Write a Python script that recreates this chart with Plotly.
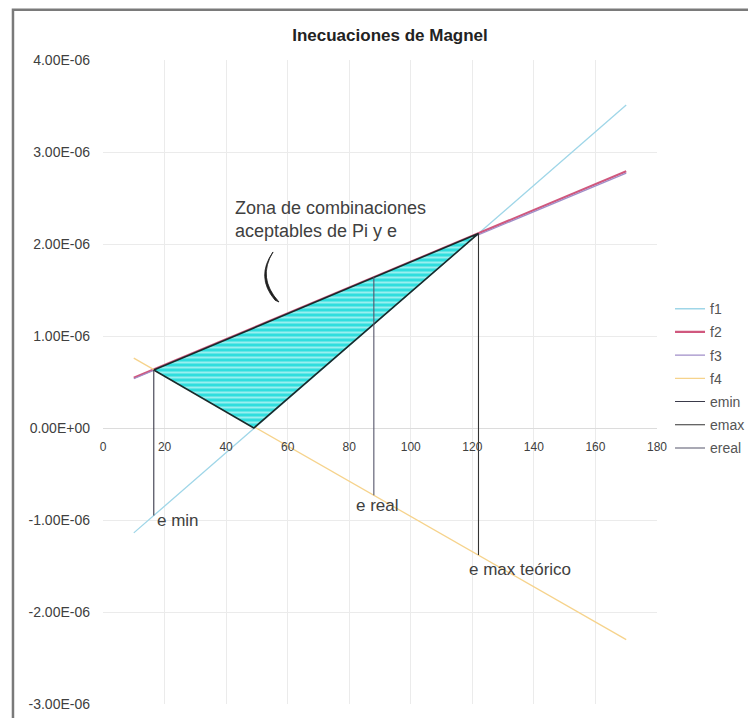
import plotly.graph_objects as go

# ---- data ----
x_ends = [10, 170]
f1 = [-1.14e-6, 3.51e-6]
f2 = [0.545e-6, 2.79e-6]
f3 = [0.535e-6, 2.77e-6]
f4 = [0.76e-6, -2.30e-6]

emin_x = [16.5, 16.5]
emin_y = [-0.95e-6, 0.63e-6]
ereal_x = [88, 88]
ereal_y = [-0.73e-6, 1.64e-6]
emax_x = [122, 122]
emax_y = [-1.38e-6, 2.115e-6]

zone_x = [16.5, 122, 49, 16.5]
zone_y = [0.63e-6, 2.115e-6, 0.0, 0.63e-6]

x_ticks = [0, 20, 40, 60, 80, 100, 120, 140, 160, 180]
y_ticks = [4e-6, 3e-6, 2e-6, 1e-6, 0.0, -1e-6, -2e-6, -3e-6]
y_labels = ["4.00E-06", "3.00E-06", "2.00E-06", "1.00E-06", "0.00E+00",
            "-1.00E-06", "-2.00E-06", "-3.00E-06"]

FONT = "Liberation Sans, Arial, sans-serif"
TXT = "#404040"

fig = go.Figure()

fig.add_trace(go.Scatter(x=x_ends, y=f1, mode="lines", name="f1",
                         line=dict(color="#9fd6e8", width=1.3),
                         legendgroup="f1", legendrank=1))
fig.add_trace(go.Scatter(x=x_ends, y=f2, mode="lines", name="f2",
                         line=dict(color="#d0587e", width=2.2),
                         legendgroup="f2", legendrank=2))
fig.add_trace(go.Scatter(x=x_ends, y=f3, mode="lines", name="f3",
                         line=dict(color="#a08ec8", width=1.2),
                         legendgroup="f3", legendrank=3))
fig.add_trace(go.Scatter(x=x_ends, y=f4, mode="lines", name="f4",
                         line=dict(color="#f6d38c", width=1.3),
                         legendgroup="f4", legendrank=4))

fig.add_trace(go.Scatter(x=zone_x, y=zone_y, mode="lines", fill="toself",
                         fillcolor="#30dede",
                         fillpattern=dict(shape="-", bgcolor="#30dede",
                                          fgcolor="white", size=5, solidity=0.4),
                         line=dict(color="#1a2a2a", width=1.6),
                         showlegend=False, hoverinfo="skip"))

fig.add_trace(go.Scatter(x=emin_x, y=emin_y, mode="lines", name="emin",
                         line=dict(color="#3a3a4a", width=1.1),
                         legendgroup="emin", legendrank=5))
fig.add_trace(go.Scatter(x=emax_x, y=emax_y, mode="lines", name="emax",
                         line=dict(color="#333333", width=1.1),
                         legendgroup="emax", legendrank=6))
fig.add_trace(go.Scatter(x=ereal_x, y=ereal_y, mode="lines", name="ereal",
                         line=dict(color="#55556a", width=1.1),
                         legendgroup="ereal", legendrank=7))

# curved pointer (decoration, paper coords)
fig.add_shape(type="path", xref="paper", yref="paper",
              path="M 0.3069,0.7019 Q 0.2780,0.6615 0.3177,0.6242 "
                   "L 0.3105,0.6270 Q 0.2750,0.6630 0.3069,0.7019 Z",
              fillcolor="#202020", line=dict(color="#202020", width=0.8))

# outer chart border
fig.add_shape(type="rect", xref="paper", yref="paper",
              x0=-0.1625, y0=-0.06, x1=1.2, y1=1.078,
              line=dict(color="#7a7a7a", width=2.5), fillcolor="rgba(0,0,0,0)",
              layer="below")

fig.add_annotation(xref="paper", yref="paper", x=0.2347, y=0.7516,
                   xanchor="left", yanchor="middle", align="left",
                   text="Zona de combinaciones<br>aceptables de Pi y e",
                   showarrow=False, font=dict(family=FONT, size=18, color=TXT))
fig.add_annotation(x=16.9, y=-1.0e-6, xanchor="left", yanchor="middle",
                   text="e min", showarrow=False,
                   font=dict(family=FONT, size=17, color=TXT))
fig.add_annotation(x=81.5, y=-0.84e-6, xanchor="left", yanchor="middle",
                   text="e real", showarrow=False,
                   font=dict(family=FONT, size=17, color=TXT))
fig.add_annotation(x=118.3, y=-1.54e-6, xanchor="left", yanchor="middle",
                   text="e max teórico", showarrow=False,
                   font=dict(family=FONT, size=17, color=TXT))

# page has an 8px body margin: figure is offset by (8, 8) in the window
fig.update_layout(
    width=748, height=710,
    margin=dict(l=95, r=99, t=52, b=14, autoexpand=False),
    paper_bgcolor="white", plot_bgcolor="white",
    font=dict(family=FONT, color=TXT),
    title=dict(text="<b>Inecuaciones de Magnel</b>", xref="container",
               x=(390 - 8) / 748, y=1 - (35 - 8) / 710,
               xanchor="center", yanchor="middle", automargin=False,
               font=dict(family=FONT, size=17, color="#222222")),
    showlegend=True,
    legend=dict(x=1.0235, y=0.638, xanchor="left", yanchor="top",
                font=dict(family=FONT, size=14, color="#555555"),
                tracegroupgap=2, bgcolor="rgba(0,0,0,0)"),
    xaxis=dict(range=[0, 180], tickvals=x_ticks, ticktext=[str(v) for v in x_ticks],
               showgrid=True, gridcolor="#ebebeb", gridwidth=1,
               zeroline=False, showline=False, anchor="free", position=3 / 7,
               ticks="", ticklabelstandoff=10, automargin=False,
               tickfont=dict(family=FONT, size=12, color=TXT)),
    yaxis=dict(range=[-3e-6, 4e-6], tickvals=y_ticks, ticktext=y_labels,
               showgrid=True, gridcolor="#ebebeb", gridwidth=1,
               zeroline=True, zerolinecolor="#dcdcdc", zerolinewidth=1,
               showline=False, ticks="", ticklabelstandoff=12, automargin=False,
               tickfont=dict(family=FONT, size=14, color=TXT)),
)

fig.write_html("out.html")
